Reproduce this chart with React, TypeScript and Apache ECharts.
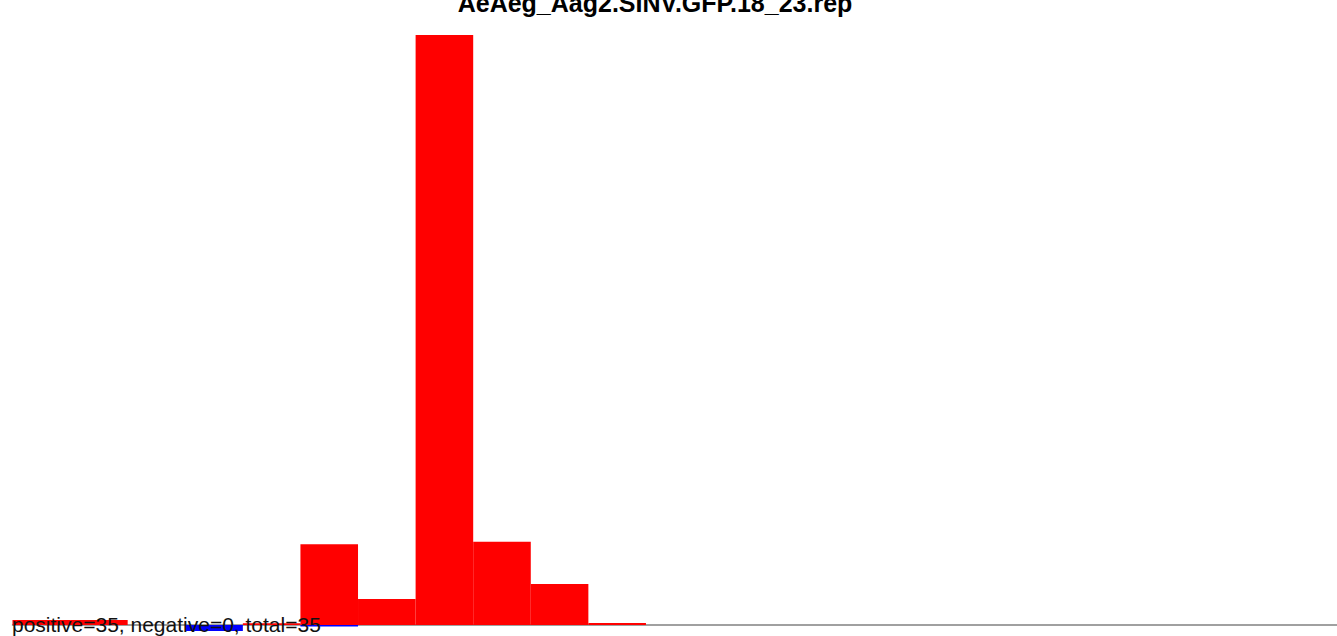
import React, { useEffect, useRef } from "react";
import * as echarts from "echarts";

const titleText = "AeAeg_Aag2.SINV.GFP.18_23.rep";
const summaryText = "positive=35, negative=0, total=35";
const categories = Array.from({ length: 23 }, (_, i) => String(i + 1));
const positiveValues = [0.85, 0.85, 0, 0, 0.3, 13.7, 4.4, 100, 14.1, 6.95, 0.34, 0, 0, 0, 0, 0, 0, 0, 0, 0, 0, 0, 0];
const negativeValues = [0, 0, 0, -1.0, 0, -0.25, 0, 0, 0, 0, 0, 0, 0, 0, 0, 0, 0, 0, 0, 0, 0, 0, 0];

export default function App() {
  const ref = useRef<HTMLDivElement>(null);
  useEffect(() => {
    if (!ref.current) return;
    const chart = echarts.init(ref.current, null, { renderer: "svg" });
    chart.setOption({
      animation: false,
      backgroundColor: "#ffffff",
      grid: { left: 12.5, top: 35, width: 1333, bottom: 0, containLabel: false },
      xAxis: {
        type: "category",
        data: categories,
        axisLine: { show: true, onZero: true, lineStyle: { color: "#808080", width: 1.5 } },
        axisTick: { show: false },
        axisLabel: { show: false },
        splitLine: { show: false },
      },
      yAxis: {
        type: "value",
        min: -1.864,
        max: 100,
        show: false,
        splitLine: { show: false },
      },
      series: [
        {
          type: "bar",
          name: "positive",
          stack: "s",
          data: positiveValues,
          barCategoryGap: "0%",
          itemStyle: { color: "#ff0000" },
          clip: false,
        },
        {
          type: "bar",
          name: "negative",
          stack: "s",
          data: negativeValues,
          barCategoryGap: "0%",
          itemStyle: { color: "#0000ff" },
          clip: false,
        },
      ],
      graphic: [
        {
          type: "text",
          x: 655,
          y: 15,
          z: 100,
          style: {
            text: titleText,
            fill: "#000000",
            font: "bold 25px 'Liberation Sans', Arial, sans-serif",
            textAlign: "center",
            textVerticalAlign: "bottom",
          },
        },
        {
          type: "text",
          x: 12,
          y: 635,
          z: 100,
          style: {
            text: summaryText,
            fill: "#111111",
            font: "21px 'Liberation Sans', Arial, sans-serif",
            textAlign: "left",
            textVerticalAlign: "bottom",
          },
        },
      ],
    });
    return () => chart.dispose();
  }, []);
  return (
    <div
      ref={ref}
      style={{ position: "fixed", left: 0, top: 0, width: 1337, height: 636, background: "#fff" }}
    />
  );
}
